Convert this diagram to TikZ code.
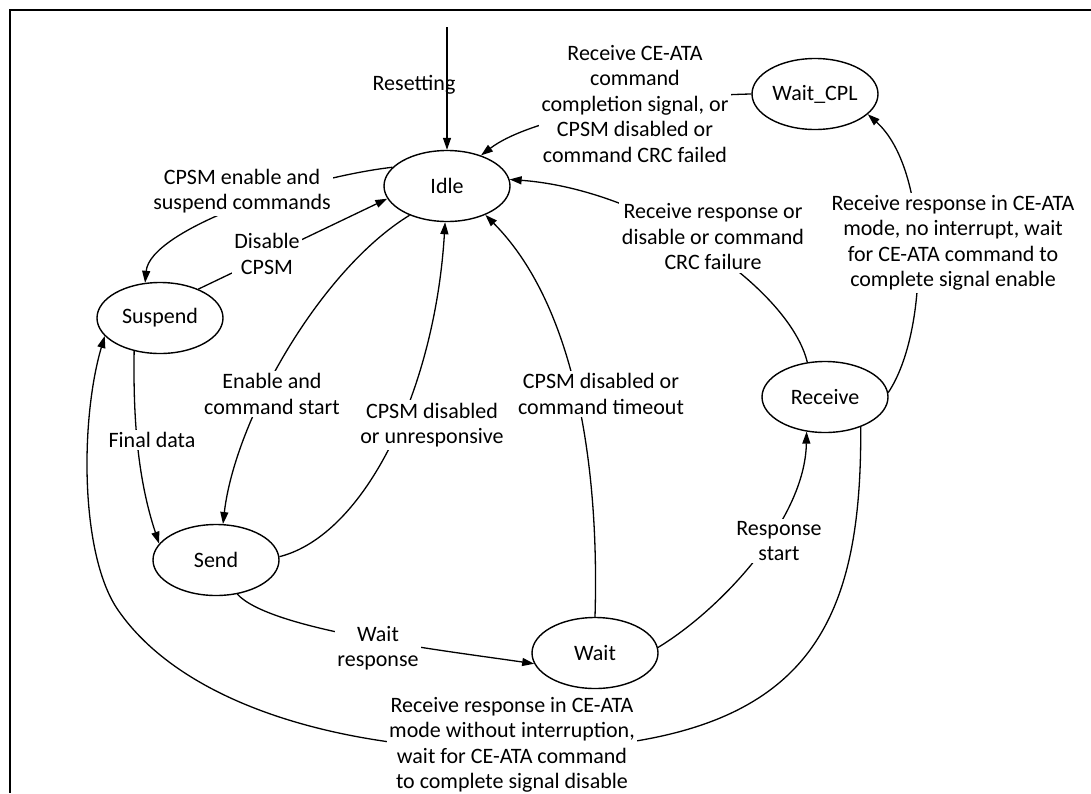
\documentclass[tikz,border=0pt]{standalone}
\usepackage{fontspec}
\setmainfont{Carlito}
\usetikzlibrary{shapes.geometric,arrows.meta,backgrounds}
\begin{document}
\begin{tikzpicture}[x=1pt,y=-1pt,
  txt/.style={font=\fontsize{22}{25.5}\selectfont},
  state/.style={ellipse,draw,line width=1.4pt,minimum width=126pt,minimum height=71pt,inner sep=0pt,txt},
  lbl/.style={align=center,fill=white,inner sep=2.5pt,txt},
  conn/.style={line width=1.3pt,-{Triangle[length=12pt,width=8pt]}},
  frameline/.style={line width=2pt}]
\useasboundingbox (0,0) rectangle (1091,793);
\draw[frameline] (1091,10) -- (10,10) -- (10,793);

\node[state] (idle) at (447,186) {Idle};
\node[state] (wcpl) at (815,94) {Wait\_CPL};
\node[state] (susp) at (160,318) {Suspend};
\node[state] (send) at (216,560) {Send};
\node[state] (wait) at (595,653) {Wait};
\node[state] (recv) at (825,397) {Receive};

\coordinate (rs) at (447,27);
\node[txt] (lrst) at (414,85) {Resetting};
\node[lbl] (l1) at (635,104) {Receive CE-ATA\\command\\completion signal, or\\CPSM disabled or\\command CRC failed};
\node[lbl] (l2) at (242,191) {CPSM enable and\\suspend commands};
\node[lbl] (l3) at (267,254) {Disable\\CPSM};
\node[lbl] (l4) at (272,394) {Enable and\\command start};
\node[lbl] (l5) at (432,425) {CPSM disabled\\or unresponsive};
\node[lbl] (l6) at (601,394) {CPSM disabled or\\command timeout};
\node[lbl] (l7) at (713,237) {Receive response or\\disable or command\\CRC failure};
\node[lbl] (l8) at (953,243) {Receive response in CE-ATA\\mode, no interrupt, wait\\for CE-ATA command to\\complete signal enable};
\node[lbl] (l9) at (152,440) {Final data};
\node[lbl] (l10) at (378,648) {Wait\\response};
\node[lbl] (l11) at (779,541) {Response\\start};
\node[lbl] (l12) at (512,745) {Receive response in CE-ATA\\mode without interruption,\\wait for CE-ATA command\\to complete signal disable};

\begin{pgfonlayer}{background}
\draw[conn] (rs) -- (idle.north);
\draw[conn] (wcpl.west) .. controls (650,96) and (530,118) .. (idle.42);
\draw[conn] (idle.161) .. controls (300,178) and (150,230) .. (susp.113);
\draw[conn] (susp.37) -- (idle.192);
\draw[conn] (idle.218) .. controls (320,270) and (235,420) .. (send.79);
\draw[conn] (send.3) .. controls (365,535) and (435,390) .. (idle.267);
\draw[conn] (wait.north) .. controls (600,450) and (570,300) .. (idle.323);
\draw[conn] (recv.117) .. controls (790,290) and (650,190) .. (idle.6);
\draw[conn] (recv.4) .. controls (930,330) and (930,170) .. (wcpl.339);
\draw[conn] (susp.232) .. controls (133,420) and (138,480) .. (send.164);
\draw[conn] (send.302) .. controls (270,630) and (440,650) .. (wait.190);
\draw[conn] (wait.5) .. controls (720,610) and (805,520) .. (recv.242);
\draw[conn] (recv.320) .. controls (862,640) and (800,750) .. (510,750)
  .. controls (330,750) and (180,700) .. (118,610)
  .. controls (80,555) and (80,420) .. (susp.198);
\end{pgfonlayer}
\end{tikzpicture}
\end{document}
